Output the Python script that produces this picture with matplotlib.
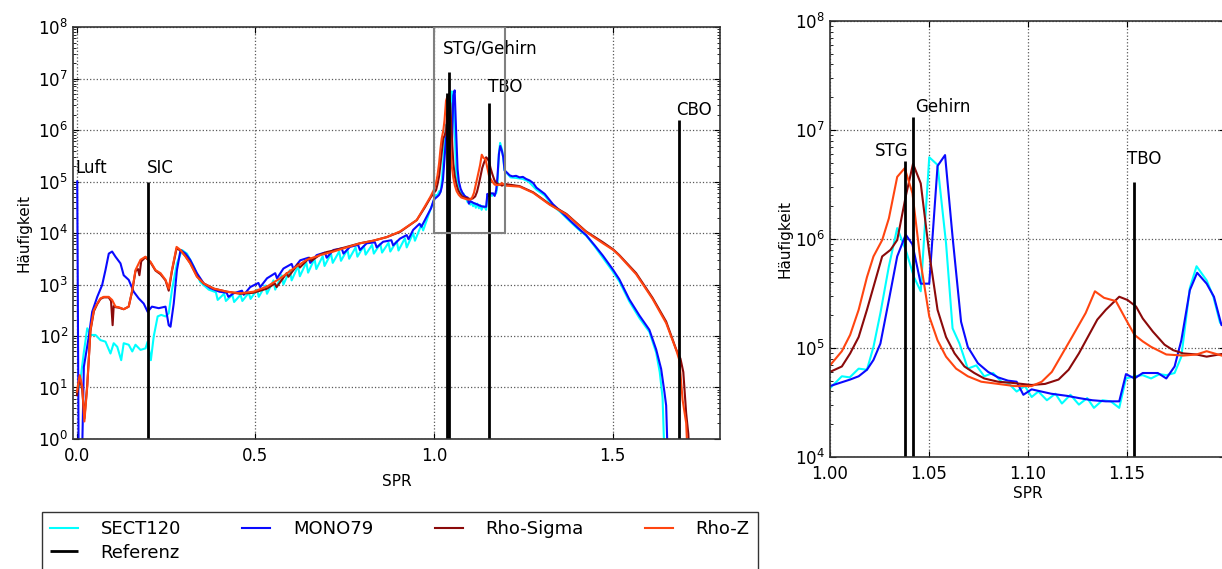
import numpy as np
import matplotlib
matplotlib.use("Agg")
import matplotlib.pyplot as plt
from matplotlib.patches import Rectangle
from matplotlib.ticker import FormatStrFormatter, LogLocator

# ---- data (SPR bins and log10 of counts) ----
# values of -0.5 mean "empty bin" (drawn below the axis)
sect120_x = [0.002, 0.011, 0.020, 0.030, 0.039, 0.053, 0.067, 0.081, 0.095, 0.104, 0.114, 0.125,
             0.132, 0.146, 0.156, 0.165, 0.179, 0.193, 0.199, 0.208, 0.216, 0.227, 0.237, 0.249,
             0.258, 0.267, 0.281, 0.295, 0.309, 0.328, 0.346,
             0.370, 0.390, 0.395, 0.413, 0.418, 0.436, 0.441, 0.459, 0.464, 0.482, 0.487, 0.505,
             0.510, 0.528, 0.533, 0.551, 0.556, 0.574, 0.579, 0.597, 0.602, 0.620, 0.625, 0.643,
             0.648, 0.666, 0.671, 0.689, 0.694, 0.712, 0.717, 0.735, 0.740, 0.758, 0.763, 0.781,
             0.786, 0.804, 0.809, 0.827, 0.832, 0.850, 0.855, 0.873, 0.878, 0.896, 0.901, 0.919,
             0.924, 0.942, 0.947, 0.965, 0.970, 0.990,
             1.000, 1.006, 1.010, 1.0145, 1.0187, 1.022, 1.0255, 1.0298, 1.034, 1.0383, 1.0425,
             1.0459, 1.0502, 1.0544, 1.0587, 1.062, 1.0655, 1.0697, 1.074, 1.078, 1.0825, 1.0867,
             1.090, 1.0944, 1.0986, 1.102, 1.1054, 1.1097, 1.114, 1.1173, 1.1216, 1.1259, 1.1301,
             1.1335, 1.1378, 1.142, 1.1463, 1.1497, 1.154, 1.1582, 1.1624, 1.1667, 1.1701, 1.1743,
             1.1777, 1.182, 1.1854, 1.1905, 1.1939, 1.1973, 1.200,
             1.203, 1.215, 1.230, 1.249, 1.265, 1.287, 1.310, 1.333, 1.355, 1.380, 1.403, 1.426,
             1.450, 1.473, 1.501, 1.519, 1.547, 1.575, 1.603, 1.622, 1.632, 1.640, 1.646]
sect120_log = [0.89, 1.15, 1.66, 2.15, 2.02, 2.02, 1.92, 1.89, 1.66, 1.86, 1.79, 1.53,
               1.86, 1.83, 1.70, 1.83, 1.73, 1.76, 1.89, 1.53, 1.99, 2.38, 2.41, 2.38,
               2.44, 2.89, 3.41, 3.67, 3.60, 3.35, 3.05,
               2.90, 2.85, 2.70, 2.82, 2.68, 2.80, 2.66, 2.80, 2.68, 2.84, 2.72, 2.90,
               2.76, 2.98, 2.82, 3.08, 2.90, 3.18, 3.00, 3.28, 3.08, 3.36, 3.16, 3.43,
               3.23, 3.50, 3.30, 3.55, 3.36, 3.60, 3.42, 3.64, 3.46, 3.68, 3.50, 3.72,
               3.54, 3.75, 3.58, 3.77, 3.60, 3.79, 3.62, 3.81, 3.64, 3.84, 3.66, 3.90,
               3.72, 4.00, 3.85, 4.16, 4.05, 4.45,
               4.63, 4.74, 4.73, 4.81, 4.80, 5.01, 5.32, 5.75, 6.10, 5.90, 5.65,
               5.52, 6.75, 6.68, 5.96, 5.18, 5.04, 4.81, 4.84, 4.74, 4.77, 4.69,
               4.68, 4.60, 4.65, 4.55, 4.60, 4.52, 4.58, 4.49, 4.57, 4.48, 4.54,
               4.45, 4.52, 4.51, 4.45, 4.72, 4.74, 4.75, 4.72, 4.76, 4.75, 4.77,
               4.92, 5.55, 5.75, 5.62, 5.47, 5.23, 5.20,
               5.17, 5.08, 5.07, 5.05, 5.00, 4.84, 4.73, 4.53, 4.40, 4.23, 4.08, 3.95,
               3.74, 3.52, 3.25, 3.06, 2.67, 2.35, 2.08, 1.68, 1.30, 0.80, -0.5]

mono79_x = [0.002, 0.006, 0.015, 0.0205, 0.0344, 0.0438, 0.058, 0.0717, 0.081, 0.0903, 0.0996,
            0.109, 0.123, 0.132, 0.146, 0.160, 0.174, 0.188, 0.199, 0.211, 0.230, 0.249, 0.258,
            0.263, 0.272, 0.281, 0.291, 0.305, 0.318, 0.337, 0.356, 0.374,
            0.400, 0.420, 0.425, 0.440, 0.463, 0.468, 0.486, 0.509, 0.514, 0.533, 0.556, 0.561,
            0.579, 0.602, 0.607, 0.626, 0.649, 0.654, 0.672, 0.695, 0.700, 0.719, 0.742, 0.747,
            0.765, 0.788, 0.793, 0.812, 0.835, 0.840, 0.858, 0.881, 0.886, 0.905, 0.924, 0.929,
            0.942, 0.960, 0.965, 0.980, 0.992,
            1.000, 1.0102, 1.0145, 1.0187, 1.022, 1.0255, 1.0298, 1.034, 1.0383, 1.0417, 1.0459,
            1.0502, 1.0544, 1.0582, 1.062, 1.0663, 1.0697, 1.0748, 1.080, 1.085, 1.090, 1.0944,
            1.0978, 1.102, 1.1118, 1.120, 1.1259, 1.1327, 1.1395, 1.1463, 1.1497, 1.154, 1.1582,
            1.1658, 1.1701, 1.1743, 1.1777, 1.182, 1.1857, 1.1905, 1.1942, 1.198, 1.200,
            1.205, 1.212, 1.220, 1.230, 1.240, 1.249, 1.258, 1.268, 1.278, 1.287, 1.310, 1.333,
            1.355, 1.380, 1.403, 1.426, 1.450, 1.473, 1.501, 1.519, 1.547, 1.575, 1.603, 1.622,
            1.636, 1.645, 1.650, 1.655]
mono79_log = [5.00, -0.5, -0.5, 1.40, 1.99, 2.47, 2.76, 2.99, 3.28, 3.60, 3.64,
              3.54, 3.41, 3.18, 3.09, 2.86, 2.73, 2.63, 2.47, 2.57, 2.54, 2.57, 2.21,
              2.18, 2.63, 3.28, 3.67, 3.60, 3.48, 3.22, 3.02, 2.93,
              2.86, 2.84, 2.76, 2.83, 2.88, 2.80, 2.95, 3.03, 2.95, 3.12, 3.22, 3.12,
              3.31, 3.40, 3.30, 3.47, 3.52, 3.42, 3.57, 3.62, 3.52, 3.67, 3.70, 3.60,
              3.73, 3.77, 3.67, 3.80, 3.82, 3.72, 3.83, 3.86, 3.76, 3.89, 3.96, 3.88,
              4.06, 4.18, 4.12, 4.32, 4.48,
              4.65, 4.71, 4.74, 4.80, 4.89, 5.04, 5.44, 5.84, 6.04, 5.95, 5.59,
              5.59, 6.67, 6.77, 6.02, 5.24, 5.01, 4.86, 4.78, 4.73, 4.70, 4.69,
              4.57, 4.62, 4.58, 4.56, 4.54, 4.52, 4.51, 4.51, 4.76, 4.72, 4.77,
              4.77, 4.72, 4.83, 5.07, 5.53, 5.69, 5.59, 5.47, 5.21, 5.20,
              5.17, 5.12, 5.10, 5.11, 5.08, 5.09, 5.05, 5.02, 4.97, 4.88, 4.76, 4.56,
              4.42, 4.25, 4.10, 3.96, 3.76, 3.56, 3.29, 3.10, 2.71, 2.40, 2.12, 1.74,
              1.36, 0.92, 0.65, -0.5]

rho_sigma_x = [0.001, 0.009, 0.016, 0.022, 0.030, 0.039, 0.0485, 0.058, 0.067, 0.076, 0.090,
               0.0965, 0.101, 0.104, 0.109, 0.118, 0.132, 0.146, 0.156, 0.165, 0.172, 0.176,
               0.181, 0.193, 0.207, 0.221, 0.235, 0.249, 0.258, 0.267, 0.280, 0.291, 0.305,
               0.318, 0.337, 0.356,
               0.384, 0.421, 0.458, 0.495, 0.533, 0.555, 0.560, 0.588, 0.593, 0.620, 0.625,
               0.652, 0.657, 0.682, 0.700, 0.719, 0.756, 0.793, 0.830, 0.868, 0.905, 0.952,
               0.975, 0.990,
               1.000, 1.006, 1.0102, 1.0145, 1.0187, 1.022, 1.0264, 1.0306, 1.034, 1.0383, 1.042,
               1.0459, 1.0502, 1.0544, 1.0587, 1.063, 1.068, 1.073, 1.078, 1.085, 1.0918, 1.102,
               1.1088, 1.1156, 1.1207, 1.1259, 1.131, 1.1352, 1.1395, 1.1463, 1.1505, 1.1548,
               1.1582, 1.1633, 1.1692, 1.1735, 1.1786, 1.1854, 1.1905, 1.200,
               1.240, 1.278, 1.324, 1.371, 1.426, 1.473, 1.502, 1.519, 1.566, 1.612, 1.650,
               1.678, 1.690, 1.698, 1.706, 1.712, 1.716]
rho_sigma_log = [0.85, 1.20, 0.95, 0.40, 1.05, 2.10, 2.48, 2.62, 2.72, 2.75, 2.75,
                 2.68, 2.21, 2.58, 2.56, 2.55, 2.52, 2.57, 2.88, 3.26, 3.30, 3.18,
                 3.45, 3.53, 3.43, 3.27, 3.20, 3.08, 2.88, 3.26, 3.70, 3.66, 3.55,
                 3.42, 3.16, 3.02,
                 2.92, 2.86, 2.82, 2.84, 2.92, 3.02, 2.95, 3.22, 3.15, 3.40, 3.33,
                 3.52, 3.46, 3.58, 3.63, 3.66, 3.73, 3.80, 3.85, 3.92, 4.02, 4.25,
                 4.50, 4.68,
                 4.78, 4.83, 4.95, 5.10, 5.35, 5.56, 5.84, 5.90, 5.99, 6.39, 6.69,
                 6.51, 5.87, 5.35, 5.10, 4.95, 4.83, 4.77, 4.72, 4.69, 4.68, 4.66,
                 4.67, 4.71, 4.80, 4.95, 5.12, 5.26, 5.35, 5.47, 5.44, 5.38,
                 5.27, 5.15, 5.03, 4.98, 4.95, 4.94, 4.92, 4.95,
                 4.91, 4.79, 4.56, 4.37, 4.03, 3.82, 3.68, 3.57, 3.22, 2.74, 2.28,
                 1.74, 1.56, 1.30, 0.50, 0.10, -0.5]

rho_z_x = [0.001, 0.009, 0.016, 0.022, 0.030, 0.039, 0.0485, 0.058, 0.067, 0.076, 0.090,
           0.0996, 0.109, 0.118, 0.132, 0.146, 0.156, 0.165, 0.179, 0.193, 0.207, 0.221,
           0.235, 0.249, 0.258, 0.267, 0.280, 0.291, 0.305, 0.318, 0.337, 0.356,
           0.384, 0.421, 0.458, 0.495, 0.533, 0.570, 0.607, 0.644, 0.682, 0.719, 0.756,
           0.793, 0.830, 0.868, 0.905, 0.952, 0.975, 0.990,
           1.000, 1.006, 1.0102, 1.0145, 1.0187, 1.022, 1.0264, 1.0298, 1.034, 1.0378, 1.0417,
           1.0459, 1.0502, 1.0544, 1.0587, 1.0638, 1.0697, 1.0765, 1.085, 1.0935, 1.102,
           1.1071, 1.1122, 1.1173, 1.1224, 1.1293, 1.134, 1.1386, 1.1446, 1.1497, 1.154,
           1.1582, 1.1624, 1.1701, 1.1786, 1.1854, 1.1905, 1.200,
           1.240, 1.278, 1.324, 1.371, 1.426, 1.473, 1.502, 1.519, 1.566, 1.612, 1.650,
           1.678, 1.687, 1.696, 1.706, 1.711]
rho_z_log = [0.92, 1.24, 1.02, 0.34, 1.02, 2.12, 2.50, 2.63, 2.73, 2.76, 2.76,
             2.70, 2.57, 2.56, 2.52, 2.57, 2.89, 3.28, 3.48, 3.54, 3.44, 3.28,
             3.22, 3.09, 2.92, 3.28, 3.73, 3.67, 3.54, 3.41, 3.15, 3.02,
             2.92, 2.86, 2.83, 2.86, 2.96, 3.12, 3.31, 3.48, 3.57, 3.64, 3.72,
             3.80, 3.85, 3.92, 4.03, 4.25, 4.52, 4.70,
             4.84, 4.97, 5.12, 5.35, 5.65, 5.84, 5.99, 6.19, 6.57, 6.65, 6.42,
             5.78, 5.29, 5.07, 4.92, 4.81, 4.74, 4.69, 4.67, 4.65, 4.65,
             4.69, 4.78, 4.94, 5.10, 5.32, 5.52, 5.46, 5.43, 5.26, 5.12,
             5.06, 5.01, 4.94, 4.93, 4.94, 4.97, 4.92,
             4.90, 4.78, 4.55, 4.36, 4.02, 3.80, 3.67, 3.56, 3.20, 2.72, 2.25,
             1.73, 1.53, 0.76, 0.31, -0.5]

# reference SPR values of the phantom inserts
ref_x = [0.200, 1.038, 1.042, 1.154, 1.686]
ref_counts = [1.0e5, 5.2e6, 1.33e7, 3.3e6, 1.55e6]

series = [
    ("SECT120", sect120_x, sect120_log, "#00ffff"),
    ("MONO79", mono79_x, mono79_log, "#0a0aff"),
    ("Rho-Sigma", rho_sigma_x, rho_sigma_log, "#8b0a0a"),
    ("Rho-Z", rho_z_x, rho_z_log, "#ff4510"),
]

plt.rcParams.update({
    "font.family": "DejaVu Sans",
    "xtick.direction": "in",
    "ytick.direction": "in",
    "xtick.top": True,
    "ytick.right": True,
    "xtick.major.size": 4,
    "ytick.major.size": 4,
    "ytick.minor.size": 2,
    "xtick.major.pad": 6,
    "xtick.labelsize": 12,
    "ytick.labelsize": 12,
    "axes.linewidth": 1.2,
    "axes.edgecolor": "0.2",
})

fig = plt.figure(figsize=(12.22, 5.69), dpi=100)
ax1 = fig.add_axes([0.0597, 0.2285, 0.5293, 0.724])
ax2 = fig.add_axes([0.6792, 0.197, 0.3236, 0.766])


def draw(ax):
    for name, xs, logs, col in series:
        ax.plot(xs, 10.0 ** np.array(logs), color=col, lw=1.5, label=name)
    ax.vlines(ref_x, 0.1, ref_counts, colors="k", lw=2.0, label="Referenz")
    ax.set_yscale("log")
    ax.grid(True, ls=":", color="0.35", lw=0.9)
    ax.yaxis.set_minor_locator(LogLocator(base=10, subs=np.arange(2, 10)))
    ax.set_xlabel("SPR", fontsize=11)
    ax.set_ylabel("Häufigkeit", fontsize=11)


# full histogram
draw(ax1)
ax1.set_xlim(-0.01, 1.8)
ax1.set_ylim(1, 1e8)
ax1.set_xticks([0.0, 0.5, 1.0, 1.5])
ax1.xaxis.set_major_formatter(FormatStrFormatter("%.1f"))
ax1.set_yticks([10.0 ** k for k in range(9)])
ax1.add_patch(Rectangle((1.0, 1e4), 0.2, 1e8 - 1e4, fill=False, ec="0.5", lw=1.5, zorder=5))
ax1.text(-0.003, 1.47e5, "Luft", fontsize=12, va="baseline")
ax1.text(0.196, 1.47e5, "SIC", fontsize=12, va="baseline")
ax1.text(1.025, 3.0e7, "STG/Gehirn", fontsize=12, va="baseline")
ax1.text(1.152, 5.5e6, "TBO", fontsize=12, va="baseline")
ax1.text(1.678, 1.95e6, "CBO", fontsize=12, va="baseline")
ax1.yaxis.labelpad = 5
ax1.xaxis.labelpad = 6

# zoom on soft tissue region
draw(ax2)
ax2.set_xlim(1.0, 1.2)
ax2.set_ylim(1e4, 1e8)
ax2.set_xticks([1.0, 1.05, 1.1, 1.15])
ax2.xaxis.set_major_formatter(FormatStrFormatter("%.2f"))
ax2.set_yticks([1e4, 1e5, 1e6, 1e7, 1e8])
ax2.text(1.0395, 5.8e6, "STG", fontsize=12, va="baseline", ha="right")
ax2.text(1.0429, 1.47e7, "Gehirn", fontsize=12, va="baseline")
ax2.text(1.150, 4.9e6, "TBO", fontsize=12, va="baseline")
ax2.yaxis.labelpad = 2
ax2.xaxis.labelpad = 2

# legend is filled column by column: put Referenz under SECT120
h, l = ax1.get_legend_handles_labels()
order = [0, 4, 1, 2, 3]
fig.legend([h[i] for i in order], [l[i] for i in order], loc="upper left",
           bbox_to_anchor=(0.0344, 0.1002), ncol=4, fontsize=13, fancybox=False,
           edgecolor="0.2", handlelength=1.55, handletextpad=1.25, columnspacing=3.4,
           labelspacing=0.3, borderpad=0.45, borderaxespad=0, framealpha=1)

fig.savefig("out.png", dpi=100)
